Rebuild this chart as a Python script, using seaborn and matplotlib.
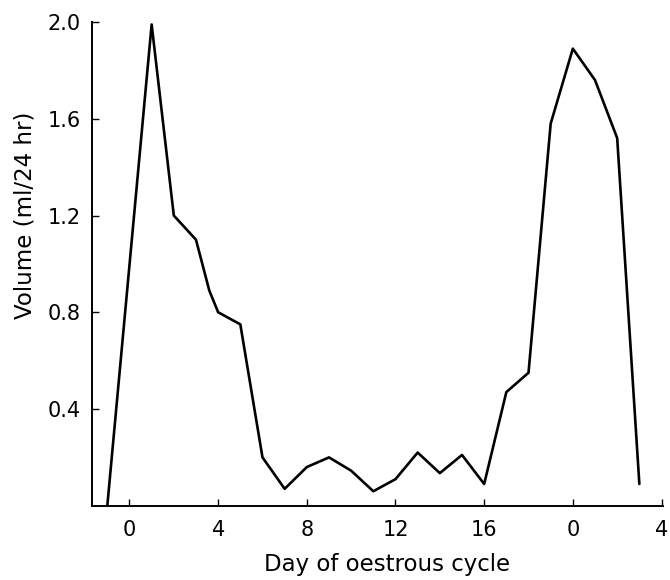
import pandas as pd
import matplotlib
matplotlib.use("Agg")
import matplotlib.pyplot as plt
import seaborn as sns

# values (day 20 = day 0 of the next cycle)
days = [-1, 1, 2, 3, 3.6, 4, 5, 6, 7, 8, 9, 10, 11, 12, 13, 14, 15, 16,
        17, 18, 19, 20, 21, 22, 23]
volume = [0.0, 1.99, 1.20, 1.10, 0.89, 0.80, 0.75, 0.20, 0.07, 0.16, 0.20,
          0.145, 0.06, 0.11, 0.22, 0.135, 0.21, 0.09, 0.47, 0.55, 1.58,
          1.89, 1.76, 1.52, 0.09]
xtick_pos = [0, 4, 8, 12, 16, 20, 24]
xtick_labels = ["0", "4", "8", "12", "16", "0", "4"]
ytick_pos = [0.4, 0.8, 1.2, 1.6, 2.0]

df = pd.DataFrame({"day": days, "volume": volume})

sns.set_style("ticks")
plt.rcParams["font.family"] = ["DejaVu Sans"]

fig = plt.figure(figsize=(6.7, 5.8), dpi=100)
ax = fig.add_axes([0.137, 0.128, 0.852, 0.834])

sns.lineplot(data=df, x="day", y="volume", ax=ax, color="black",
             linewidth=1.9, sort=False, estimator=None)
for line in ax.lines:
    line.set_clip_on(False)

ax.set_xlim(-1.7, 24.05)
ax.set_ylim(0, 2.0)
ax.set_xticks(xtick_pos)
ax.set_xticklabels(xtick_labels)
ax.set_yticks(ytick_pos)
ax.set_yticklabels([f"{v:.1f}" for v in ytick_pos])
ax.tick_params(direction="in", length=5, width=1, labelsize=15, pad=8,
               colors="black")
ax.tick_params(axis="x", pad=10)

sns.despine(ax=ax)
for s in ["left", "bottom"]:
    ax.spines[s].set_linewidth(1.4)
    ax.spines[s].set_color("black")

ax.set_xlabel("Day of oestrous cycle", fontsize=16.5, color="black")
ax.set_ylabel("Volume (ml/24 hr)", fontsize=16.5, color="black")
ax.xaxis.set_label_coords(0.517, -0.097)
ax.yaxis.set_label_coords(-0.096, 0.60)

fig.savefig("out.png", dpi=100, facecolor="white")
